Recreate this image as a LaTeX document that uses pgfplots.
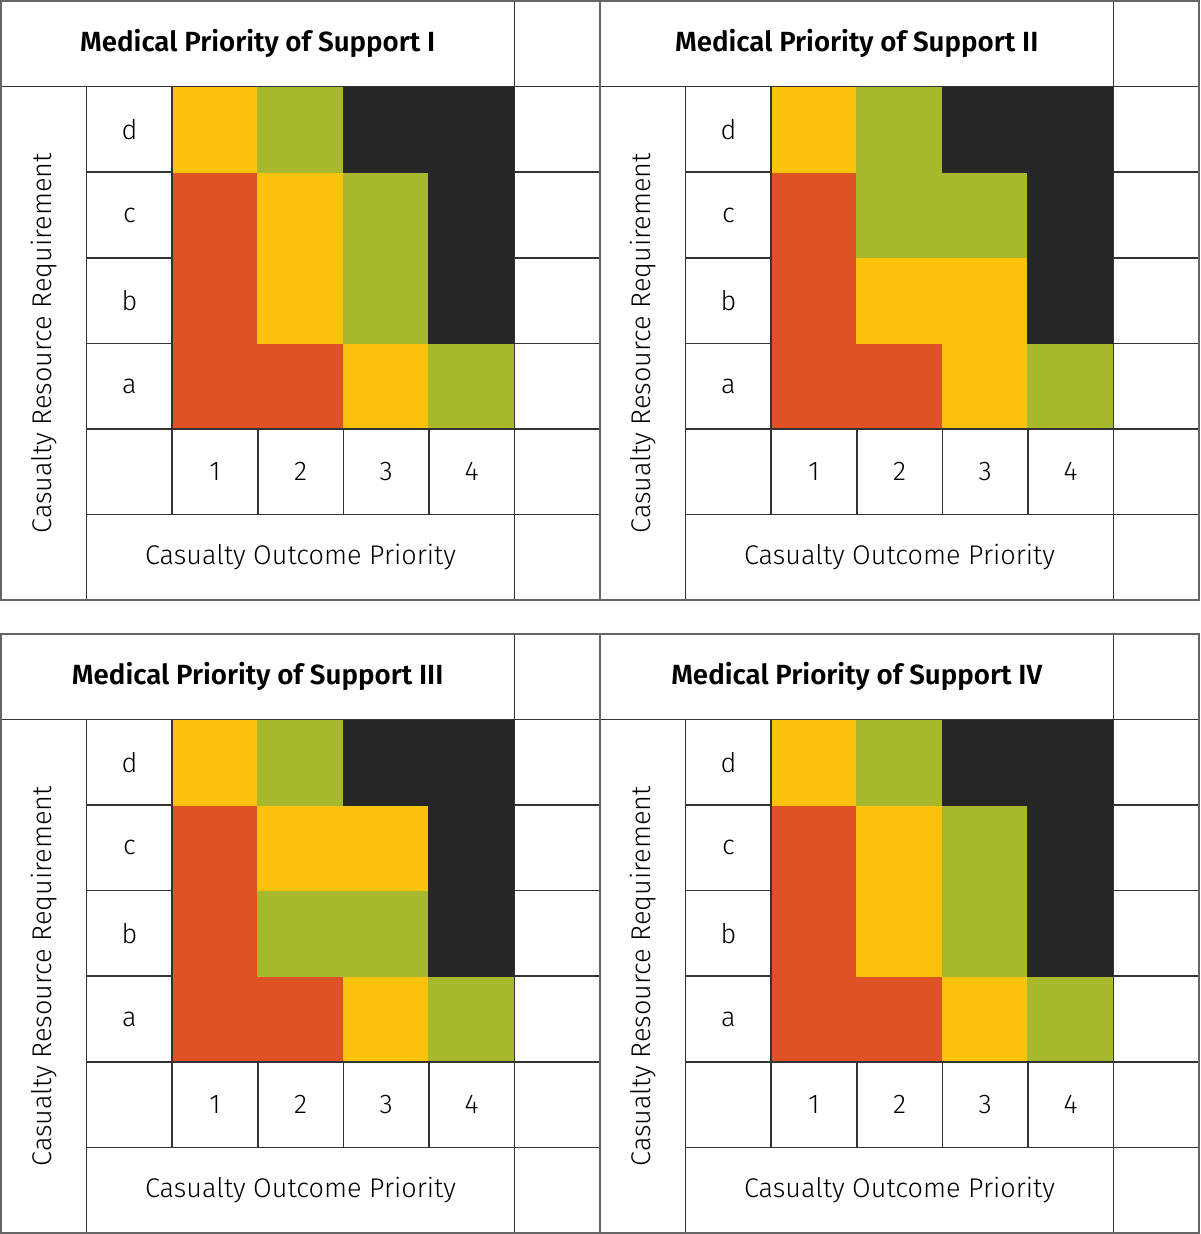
\documentclass[border=0pt]{standalone}
\usepackage{fontspec}
\setmainfont{Fira Sans}[UprightFont={* Light}, BoldFont={* SemiBold}]
\usepackage{pgfplots}
\usepackage{pgfplotstable}
\pgfplotsset{compat=1.18}

% 0 = red, 1 = yellow, 2 = green, 3 = black ; rows a (bottom) to d (top)
\pgfplotstableread{
x y c
2.5 2.5 0
3.5 2.5 0
4.5 2.5 1
5.5 2.5 2
2.5 3.5 0
3.5 3.5 1
4.5 3.5 2
5.5 3.5 3
2.5 4.5 0
3.5 4.5 1
4.5 4.5 2
5.5 4.5 3
2.5 5.5 1
3.5 5.5 2
4.5 5.5 3
5.5 5.5 3
}\panelI
\pgfplotstableread{
x y c
2.5 2.5 0
3.5 2.5 0
4.5 2.5 1
5.5 2.5 2
2.5 3.5 0
3.5 3.5 1
4.5 3.5 1
5.5 3.5 3
2.5 4.5 0
3.5 4.5 2
4.5 4.5 2
5.5 4.5 3
2.5 5.5 1
3.5 5.5 2
4.5 5.5 3
5.5 5.5 3
}\panelII
\pgfplotstableread{
x y c
2.5 2.5 0
3.5 2.5 0
4.5 2.5 1
5.5 2.5 2
2.5 3.5 0
3.5 3.5 2
4.5 3.5 2
5.5 3.5 3
2.5 4.5 0
3.5 4.5 1
4.5 4.5 1
5.5 4.5 3
2.5 5.5 1
3.5 5.5 2
4.5 5.5 3
5.5 5.5 3
}\panelIII
\pgfplotstableread{
x y c
2.5 2.5 0
3.5 2.5 0
4.5 2.5 1
5.5 2.5 2
2.5 3.5 0
3.5 3.5 1
4.5 3.5 2
5.5 3.5 3
2.5 4.5 0
3.5 4.5 1
4.5 4.5 2
5.5 4.5 3
2.5 5.5 1
3.5 5.5 2
4.5 5.5 3
5.5 5.5 3
}\panelIV

\pgfplotsset{
  prio/.style={
    scale only axis, width=6cm, height=6cm,
    xmin=0, xmax=7, ymin=0, ymax=7,
    hide axis, clip=false, anchor=south west,
    colormap={prio}{rgb255=(222,82,38) rgb255=(251,194,12) rgb255=(168,184,44) rgb255=(38,38,38)},
    colormap access=direct,
  },
}
\tikzset{gl/.style={draw=black!80, line width=0.45pt}}
\newcommand{\lbl}{\fontsize{7.7}{9}\selectfont}

\newcommand{\panel}[3]{%
\begin{axis}[prio, at={#1}]
\addplot[matrix plot*, mesh/cols=4, point meta=explicit, shader=flat corner] table[x=x, y=y, meta=c] {#3};
\draw[gl] (axis cs:0,6) -- (axis cs:7,6);
\draw[gl] (axis cs:1,1) -- (axis cs:7,1);
\draw[gl] (axis cs:1,2) -- (axis cs:7,2);
\draw[gl] (axis cs:1,3) -- (axis cs:2,3);
\draw[gl] (axis cs:1,4) -- (axis cs:2,4);
\draw[gl] (axis cs:1,5) -- (axis cs:2,5);
\draw[gl] (axis cs:6,3) -- (axis cs:7,3);
\draw[gl] (axis cs:6,4) -- (axis cs:7,4);
\draw[gl] (axis cs:6,5) -- (axis cs:7,5);
\draw[gl] (axis cs:1,0) -- (axis cs:1,6);
\draw[gl] (axis cs:2,1) -- (axis cs:2,6);
\draw[gl] (axis cs:3,1) -- (axis cs:3,2);
\draw[gl] (axis cs:4,1) -- (axis cs:4,2);
\draw[gl] (axis cs:5,1) -- (axis cs:5,2);
\draw[gl] (axis cs:6,0) -- (axis cs:6,7);
\draw[draw=black!60, line width=0.6pt] (axis cs:0,0) rectangle (axis cs:7,7);
\node[font=\fontsize{7.9}{9}\selectfont\bfseries] at (axis cs:3,6.5) {#2};
\node[font=\lbl, rotate=90] at (axis cs:0.5,3) {Casualty Resource Requirement};
\node[font=\lbl] at (axis cs:3.5,0.5) {Casualty Outcome Priority};
\node[font=\lbl] at (axis cs:1.5,2.5) {a};
\node[font=\lbl] at (axis cs:1.5,3.5) {b};
\node[font=\lbl] at (axis cs:1.5,4.5) {c};
\node[font=\lbl] at (axis cs:1.5,5.5) {d};
\node[font=\lbl] at (axis cs:2.5,1.5) {1};
\node[font=\lbl] at (axis cs:3.5,1.5) {2};
\node[font=\lbl] at (axis cs:4.5,1.5) {3};
\node[font=\lbl] at (axis cs:5.5,1.5) {4};
\end{axis}}

\begin{document}
\begin{tikzpicture}
\panel{(0cm,6.34cm)}{Medical Priority of Support I}{\panelI}
\panel{(6cm,6.34cm)}{Medical Priority of Support II}{\panelII}
\panel{(0cm,0cm)}{Medical Priority of Support III}{\panelIII}
\panel{(6cm,0cm)}{Medical Priority of Support IV}{\panelIV}
\end{tikzpicture}
\end{document}
